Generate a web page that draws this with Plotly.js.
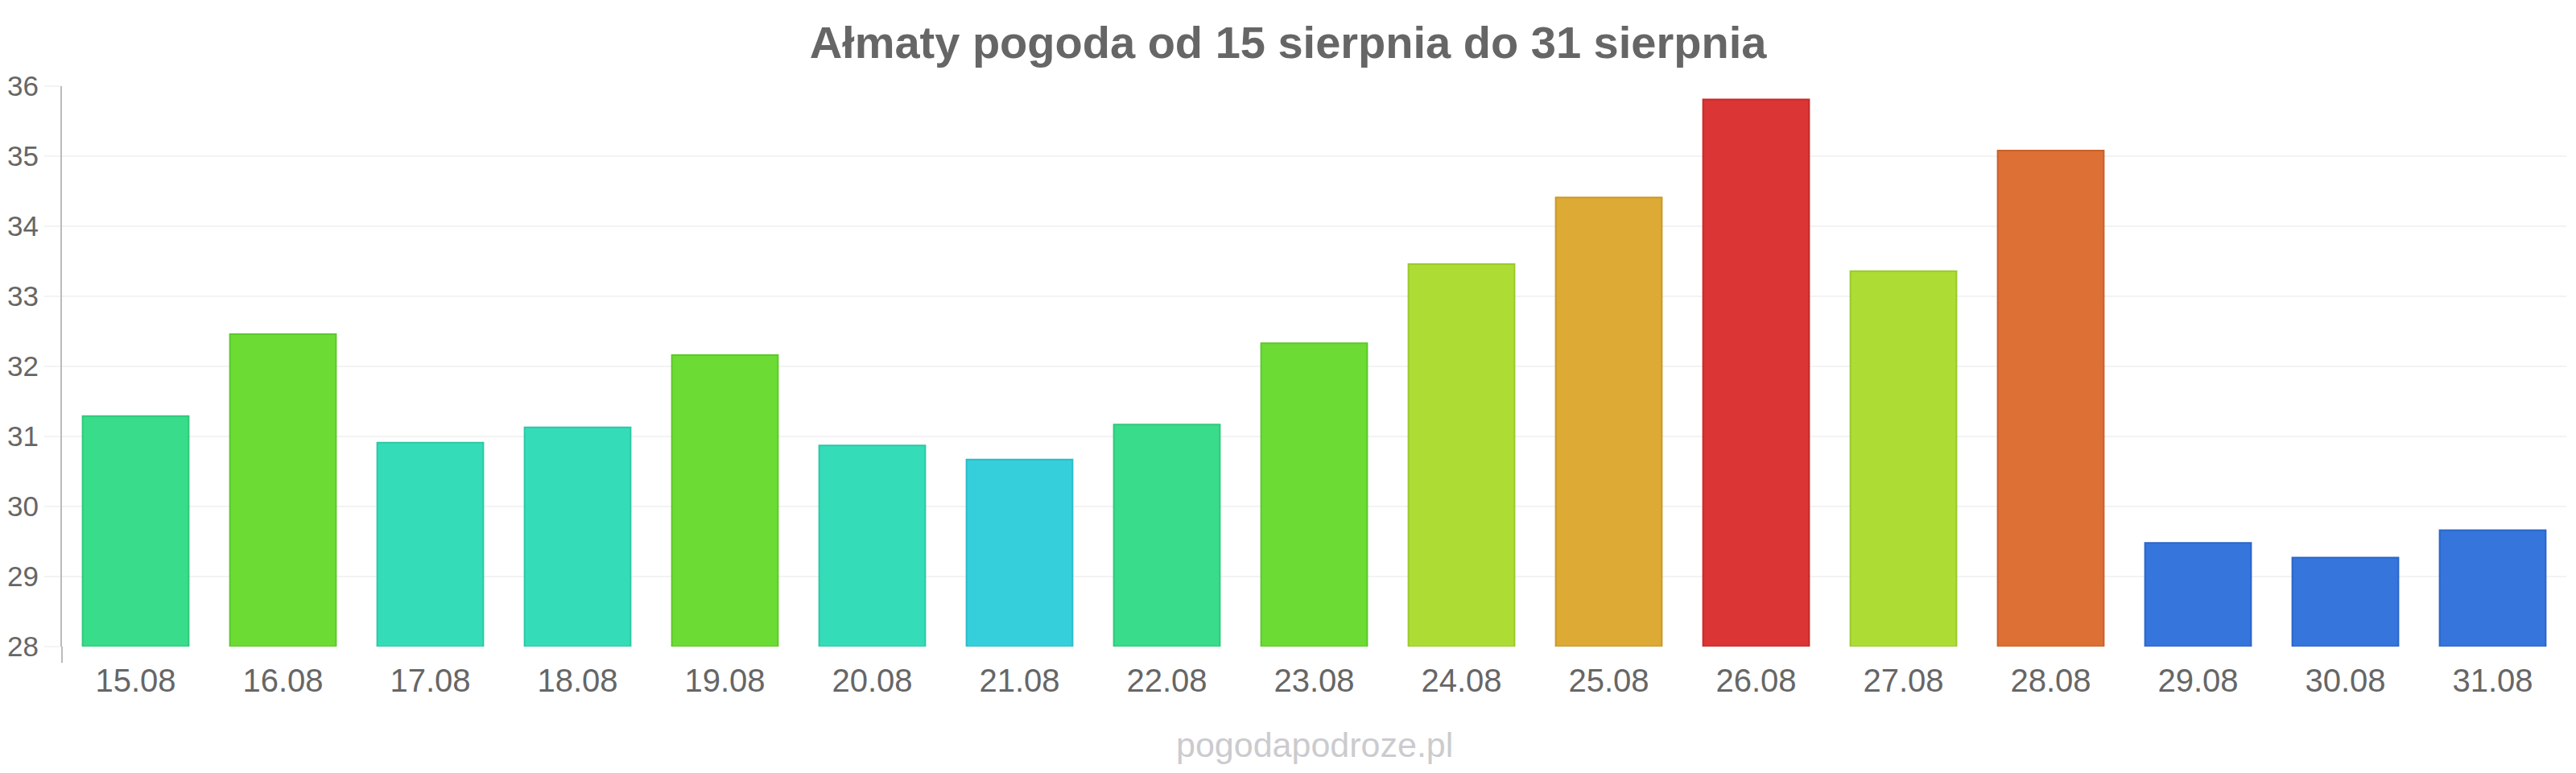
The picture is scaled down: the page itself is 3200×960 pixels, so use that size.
<!DOCTYPE html>
<html>
<head>
<meta charset="utf-8">
<script src="https://cdn.plot.ly/plotly-3.0.1.min.js"></script>
<style>
  html, body { margin: 0; padding: 0; background: #ffffff; }
  #chart { width: 3200px; height: 960px; }
</style>
</head>
<body>
<div id="chart"></div>
<script>
// ---- data ----
const days = ["15.08","16.08","17.08","18.08","19.08","20.08","21.08","22.08","23.08","24.08","25.08","26.08","27.08","28.08","29.08","30.08","31.08"];
const temps = [31.29, 32.46, 30.91, 31.13, 32.16, 30.87, 30.67, 31.17, 32.33, 33.46, 34.41, 35.81, 33.36, 35.08, 29.48, 29.27, 29.66];
const yTicks = [28, 29, 30, 31, 32, 33, 34, 35, 36];
const titleText = "Ałmaty pogoda od 15 sierpnia do 31 sierpnia";
const watermark = "pogodapodroze.pl";

// ---- styles ----
const barColors = ["#38dc8a","#6cdc35","#35dcb8","#35dcb8","#6cdc35","#35dcb8","#35cfdb","#38dc8a","#6cdc35","#addc35","#dcaa35","#db3535","#addc35","#dc7035","#3575dc","#3575dc","#3575dc"];
const barEdges  = ["#2fc97c","#5cc92b","#2cc8a6","#2cc8a6","#5cc92b","#2cc8a6","#2bbcc8","#2fc97c","#5cc92b","#9bc92b","#c9992b","#c82b2b","#9bc92b","#c9622b","#2b66c9","#2b66c9","#2b66c9"];
const fontFam = "'Liberation Sans', Arial, sans-serif";

const trace = {
  type: "bar",
  x: days,
  y: temps.map(v => v - 28),
  base: 28,
  marker: { color: barColors, line: { color: barEdges, width: 2 } },
  hoverinfo: "x+text",
  text: temps.map(String),
  textposition: "none"
};

const layout = {
  width: 3200,
  height: 960,
  margin: { l: 77, r: 12, t: 107, b: 157, pad: 0 },
  paper_bgcolor: "#ffffff",
  plot_bgcolor: "#ffffff",
  showlegend: false,
  bargap: 0.28,
  font: { family: fontFam, color: "#666666" },
  title: {
    text: "<b>" + titleText + "</b>",
    font: { family: fontFam, size: 56, color: "#666666" },
    x: 0.5, xref: "container",
    y: 0.945, yref: "container", yanchor: "middle"
  },
  xaxis: {
    type: "category",
    showgrid: false,
    showline: false,
    zeroline: false,
    ticks: "",
    tickfont: { family: fontFam, size: 40, color: "#666666" },
    ticklabelstandoff: 15
  },
  yaxis: {
    range: [28, 36],
    tickvals: yTicks,
    ticktext: yTicks.map(String),
    showgrid: true,
    gridcolor: "#f3f3f3",
    gridwidth: 2,
    zeroline: false,
    showline: true,
    linecolor: "#bbbbbb",
    linewidth: 2,
    ticks: "outside",
    ticklen: 20,
    tickwidth: 2,
    tickcolor: "#f3f3f3",
    tickfont: { family: fontFam, size: 35, color: "#666666" },
    ticklabelstandoff: 0
  },
  shapes: [{
    type: "line", xref: "paper", yref: "paper",
    x0: 0, x1: 0, y0: -0.029, y1: 0,
    line: { color: "#bbbbbb", width: 2 }
  }],
  annotations: [{
    text: watermark,
    xref: "paper", yref: "paper",
    x: 0.5, y: -0.176,
    xanchor: "center", yanchor: "middle",
    showarrow: false,
    font: { family: fontFam, size: 43, color: "#cbcbcf" }
  }]
};

Plotly.newPlot("chart", [trace], layout, { displayModeBar: false, staticPlot: true });
</script>
</body>
</html>
